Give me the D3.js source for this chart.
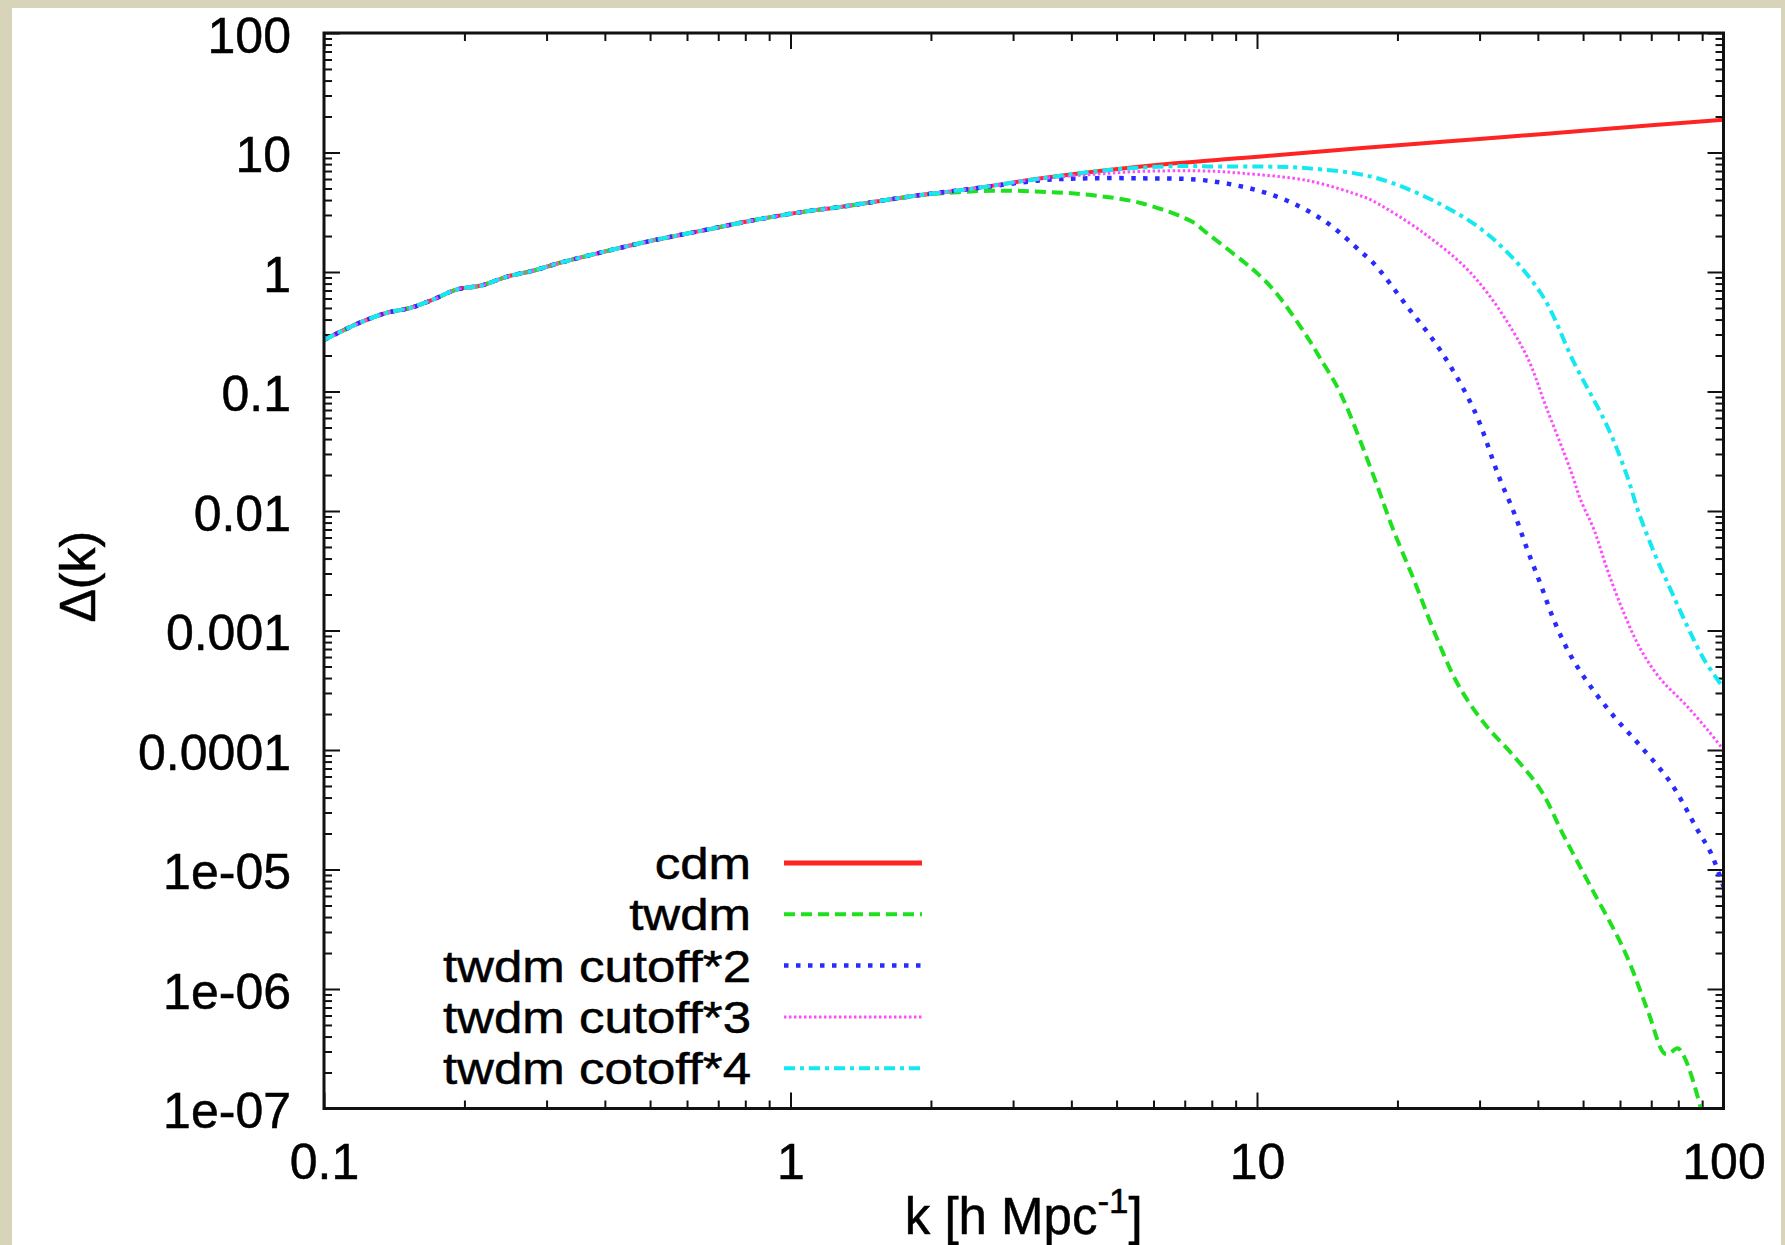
<!DOCTYPE html>
<html>
<head>
<meta charset="utf-8">
<script src="https://cdn.jsdelivr.net/npm/d3@7"></script>
<style>
  html, body { margin: 0; padding: 0; background: #d7d4b9; }
  svg { display: block; }
  text { font-family: "Liberation Sans", Arial, Helvetica, sans-serif; fill: #000; }
</style>
</head>
<body>
<svg id="chart" width="1785" height="1245"></svg>
<script>
// Power spectrum Δ(k): shared large-scale part, then each model's small-scale tail.
const sharedK     = [0.1, 0.12, 0.137, 0.153, 0.169, 0.193, 0.217, 0.247, 0.282, 0.322, 0.399, 0.511, 0.654, 0.837, 1.07, 1.29, 1.79];
const sharedDelta = [0.27, 0.38, 0.458, 0.5, 0.575, 0.715, 0.77, 0.915, 1.03, 1.2, 1.48, 1.85, 2.24, 2.72, 3.2, 3.52, 4.27];

const cdmK     = [2.48, 3.45, 4.8, 6.67, 9.28, 12.9, 16.8, 25, 35, 50, 70, 100];
const cdmDelta = [5.01, 6.08, 7.14, 8.13, 9.0, 10.0, 10.9, 12.3, 13.6, 15.2, 16.9, 18.8];

const twdmK     = [2.11, 2.7, 3.45, 4.42, 5.66, 7.25, 7.82, 9.28, 10.0, 10.95, 12.8, 13.6, 15.1, 17.8, 19.6, 21.7, 23.9, 26.9, 30.7, 35.6, 40.6, 45.5, 51.9, 61.2, 68.7, 74.6, 76.5, 79.8, 82.4, 89.4, 95];
const twdmDelta = [4.55, 4.79, 4.7, 4.4, 3.76, 2.64, 2.11, 1.25, 0.98, 0.68, 0.288, 0.195, 0.0966, 0.0194, 0.00693, 0.00265, 0.00101, 3.6e-4, 1.67e-4, 8.8e-5, 4.6e-5, 1.9e-5, 7.2e-6, 2.12e-6, 6.7e-7, 2.9e-7, 2.9e-7, 3.19e-7, 2.7e-7, 1.0e-7, 3.0e-8];

const cut2K     = [2.48, 3.45, 4.07, 5.66, 7.87, 10.9, 13.9, 16.8, 17.8, 21.0, 24.7, 29.2, 33.0, 35.6, 38.0, 40.6, 43.3, 47.0, 51.9, 58.3, 66.5, 77.1, 88.0, 94.0, 100];
const cut2Delta = [5.01, 5.85, 6.05, 6.08, 5.8, 4.35, 2.7, 1.45, 1.18, 0.513, 0.222, 0.07, 0.0194, 0.00957, 0.00472, 0.0024, 0.00122, 6.2e-4, 3.4e-4, 1.9e-4, 1.07e-4, 5.3e-5, 2.14e-5, 1.37e-5, 7.2e-6];

const cut3K     = [2.48, 3.45, 4.8, 5.66, 7.8, 9.3, 12.9, 16.8, 17.8, 22.8, 29.2, 37.3, 41.9, 47.0, 49.4, 52.8, 56.4, 61.2, 66.5, 73.4, 82.4, 92.5, 100];
const cut3Delta = [5.01, 6.05, 6.7, 6.95, 7.0, 6.7, 5.8, 4.3, 3.9, 2.11, 0.914, 0.222, 0.07, 0.022, 0.0124, 0.00693, 0.0032, 0.00139, 6.9e-4, 3.9e-4, 2.46e-4, 1.47e-4, 1.0e-4];

const cut4K     = [2.48, 3.45, 4.8, 6.67, 7.87, 10.95, 12.8, 17.8, 24.7, 31.7, 40.6, 47.9, 56.4, 62.2, 65.5, 71.1, 77.1, 83.7, 90.9, 100];
const cut4Delta = [5.01, 6.08, 7.14, 7.7, 7.65, 7.6, 7.4, 6.2, 3.7, 1.97, 0.664, 0.172, 0.0507, 0.0194, 0.0102, 0.00443, 0.00218, 0.00108, 5.7e-4, 3.3e-4];

const seriesNames = ["cdm", "twdm", "twdm cutoff*2", "twdm cutoff*3", "twdm cotoff*4"];

const xTickValues = [0.1, 1, 10, 100];
const xTickLabels = ["0.1", "1", "10", "100"];
const yTickValues = [100, 10, 1, 0.1, 0.01, 0.001, 0.0001, 1e-5, 1e-6, 1e-7];
const yTickLabels = ["100", "10", "1", "0.1", "0.01", "0.001", "0.0001", "1e-05", "1e-06", "1e-07"];

// Line appearance per series
const styles = [
  { color: "#ff2424", width: 4,   dash: null },
  { color: "#1fe01f", width: 4,   dash: "11,6" },
  { color: "#2a2aff", width: 4.5, dash: "4.5,7.5" },
  { color: "#ff4cff", width: 3,   dash: "2.5,2.5" },
  { color: "#14e8f0", width: 4,   dash: "11,5,4,5" }
];

const tails = [[cdmK, cdmDelta], [twdmK, twdmDelta], [cut2K, cut2Delta], [cut3K, cut3Delta], [cut4K, cut4Delta]];
const series = tails.map(([ks, ds], i) => ({
  name: seriesNames[i],
  points: sharedK.map((k, j) => [k, sharedDelta[j]]).concat(ks.map((k, j) => [k, ds[j]]))
}));

const svg = d3.select("#chart");

// white sheet over the beige surround
svg.append("rect").attr("x", 12).attr("y", 8).attr("width", 1769).attr("height", 1245)
  .attr("fill", "#ffffff");

const plot = { left: 324, right: 1723.5, top: 33, bottom: 1108.5 };

const x = d3.scaleLog().domain([0.1, 100]).range([plot.left, plot.right]);
const y = d3.scaleLog().domain([1e-7, 100]).range([plot.bottom, plot.top]);

// minor tick positions: 2..9 in each decade
const minorX = [], minorY = [];
for (let e = -1; e < 2; e++) for (let m = 2; m <= 9; m++) minorX.push(m * Math.pow(10, e));
for (let e = -7; e < 2; e++) for (let m = 2; m <= 9; m++) minorY.push(m * Math.pow(10, e));

const MAJ = 16, MIN = 8;

function styleAxis(g) {
  g.select(".domain").remove();
  g.selectAll(".tick line").attr("stroke", "#111").attr("stroke-width", 2);
}

function styleLabels(g) {
  g.selectAll(".tick text").attr("font-size", 50).attr("fill", "#000")
    .attr("stroke", "#000").attr("stroke-width", 0.5);
}

// bottom axis with labels
const gxB = svg.append("g").attr("transform", `translate(0,${plot.bottom})`)
  .call(d3.axisBottom(x).tickValues(xTickValues).tickSize(-MAJ).tickPadding(35)
    .tickFormat((d, i) => xTickLabels[i]));
styleAxis(gxB);
styleLabels(gxB);
svg.append("g").attr("transform", `translate(0,${plot.bottom})`)
  .call(d3.axisBottom(x).tickValues(minorX).tickSize(-MIN).tickFormat("")).call(styleAxis);

// top axis, ticks only
svg.append("g").attr("transform", `translate(0,${plot.top})`)
  .call(d3.axisTop(x).tickValues(xTickValues).tickSize(-MAJ).tickFormat("")).call(styleAxis);
svg.append("g").attr("transform", `translate(0,${plot.top})`)
  .call(d3.axisTop(x).tickValues(minorX).tickSize(-MIN).tickFormat("")).call(styleAxis);

// left axis with labels
const gyL = svg.append("g").attr("transform", `translate(${plot.left},0)`)
  .call(d3.axisLeft(y).tickValues(yTickValues).tickSize(-MAJ).tickPadding(33)
    .tickFormat((d, i) => yTickLabels[i]));
styleAxis(gyL);
styleLabels(gyL);
gyL.selectAll(".tick text").attr("dy", "0.38em");
svg.append("g").attr("transform", `translate(${plot.left},0)`)
  .call(d3.axisLeft(y).tickValues(minorY).tickSize(-MIN).tickFormat("")).call(styleAxis);

// right axis, ticks only
svg.append("g").attr("transform", `translate(${plot.right},0)`)
  .call(d3.axisRight(y).tickValues(yTickValues).tickSize(-MAJ).tickFormat("")).call(styleAxis);
svg.append("g").attr("transform", `translate(${plot.right},0)`)
  .call(d3.axisRight(y).tickValues(minorY).tickSize(-MIN).tickFormat("")).call(styleAxis);

// curves, clipped to the frame; later series are drawn on top
svg.append("clipPath").attr("id", "plot-clip").append("rect")
  .attr("x", plot.left).attr("y", plot.top)
  .attr("width", plot.right - plot.left).attr("height", plot.bottom - plot.top);

const line = d3.line().x(d => x(d[0])).y(d => y(d[1])).curve(d3.curveCatmullRom.alpha(0.5));

const curves = svg.append("g").attr("clip-path", "url(#plot-clip)");
series.forEach((s, i) => {
  curves.append("path")
    .datum(s.points)
    .attr("d", line)
    .attr("fill", "none")
    .attr("stroke", styles[i].color)
    .attr("stroke-width", styles[i].width)
    .attr("stroke-dasharray", styles[i].dash)
    .attr("stroke-linejoin", "round");
});

// frame
svg.append("rect")
  .attr("x", plot.left).attr("y", plot.top)
  .attr("width", plot.right - plot.left).attr("height", plot.bottom - plot.top)
  .attr("fill", "none").attr("stroke", "#111").attr("stroke-width", 3);

// legend: tightly stacked rows, text widened to its full-size width
const legendRows = [863, 914.3, 965.6, 1016.9, 1068.2];
const legend = svg.append("g");
seriesNames.forEach((name, i) => {
  const t = legend.append("text")
    .attr("x", 751).attr("y", legendRows[i] + 16)
    .attr("text-anchor", "end").attr("font-size", 51)
    .attr("stroke", "#000").attr("stroke-width", 0.5)
    .text(name);
  const fullWidth = t.node().getComputedTextLength();
  t.attr("font-size", 44)
    .attr("textLength", fullWidth)
    .attr("lengthAdjust", "spacingAndGlyphs");
  legend.append("line")
    .attr("x1", 784).attr("x2", 922)
    .attr("y1", legendRows[i]).attr("y2", legendRows[i])
    .attr("stroke", styles[i].color)
    .attr("stroke-width", i === 0 ? 5 : styles[i].width)
    .attr("stroke-dasharray", styles[i].dash);
});

// axis titles
const xTitle = svg.append("text")
  .attr("x", (plot.left + plot.right) / 2).attr("y", 1234)
  .attr("text-anchor", "middle").attr("font-size", 51)
  .attr("stroke", "#000").attr("stroke-width", 0.5);
xTitle.append("tspan").text("k [h Mpc");
xTitle.append("tspan").attr("font-size", 35).attr("dy", -21).text("-1");
xTitle.append("tspan").attr("dy", 21).text("]");

svg.append("text")
  .attr("transform", `translate(95,${(plot.top + plot.bottom) / 2 + 6}) rotate(-90)`)
  .attr("text-anchor", "middle").attr("font-size", 50)
  .attr("stroke", "#000").attr("stroke-width", 0.5)
  .text("Δ(k)");
</script>
</body>
</html>
